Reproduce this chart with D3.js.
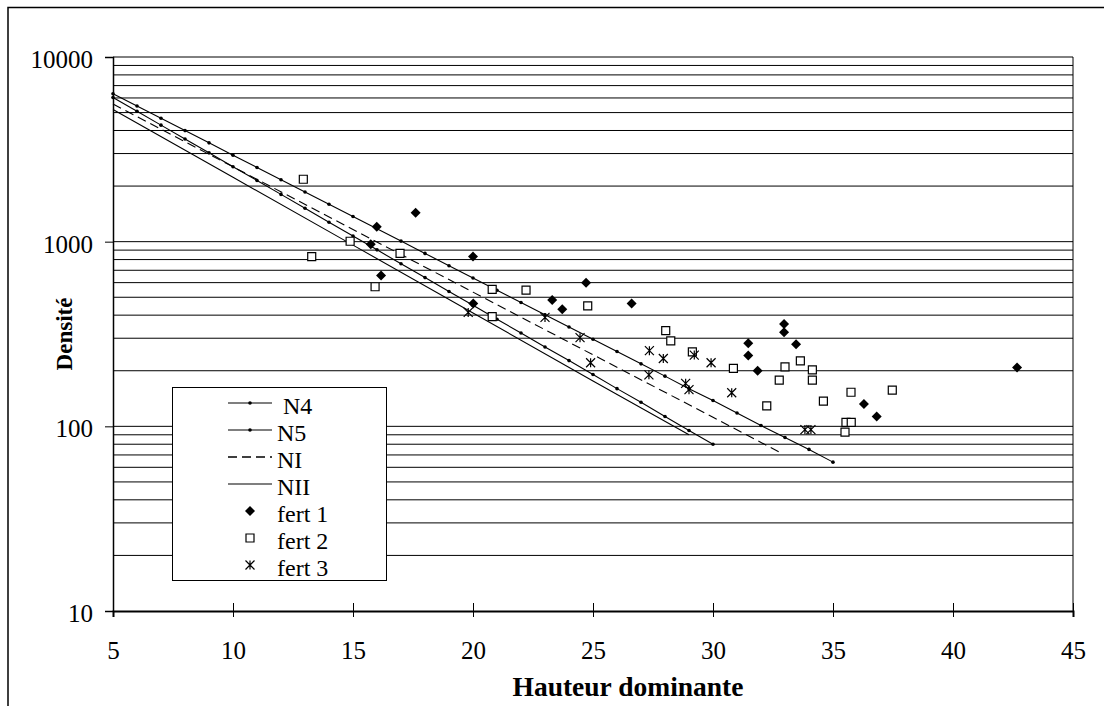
<!DOCTYPE html>
<html>
<head>
<meta charset="utf-8">
<script src="https://cdn.jsdelivr.net/npm/d3@7"></script>
<style>
  body { margin: 0; background: #fff; }
  svg { display: block; }
  svg text { font-family: "Liberation Serif", "Times New Roman", serif; fill: #000; }
</style>
</head>
<body>
<svg id="chart" width="1104" height="706"></svg>
<script>
// reference curves
const n4X = [5, 6, 7, 8, 9, 10, 11, 12, 13, 14, 15, 16, 17, 18, 19, 20, 21, 22, 23, 24, 25, 26, 27, 28, 29, 30, 31, 32, 33, 34, 35];
const n4Y = [6324, 5427, 4656, 3995, 3428, 2941, 2523, 2165, 1858, 1594, 1368, 1174, 1007, 864, 741, 636, 546, 468, 402, 345, 296, 254, 218, 187, 160, 138, 118, 101, 87, 75, 64];
const n5X = [5, 6, 7, 8, 9, 10, 11, 12, 13, 14, 15, 16, 17, 18, 19, 20, 21, 22, 23, 24, 25, 26, 27, 28, 29, 30];
const n5Y = [6039, 5082, 4276, 3597, 3027, 2547, 2143, 1803, 1516, 1275, 1073, 903, 759, 639, 537, 452, 380, 320, 269, 227, 191, 160, 135, 113, 95, 80];
const niX = [5, 10, 15, 20, 25, 30, 32.9];
const niY = [5559, 2544, 1164, 533, 244, 112, 71];
const niiX = [5, 10, 15, 20, 25, 29];
const niiY = [5200, 2232, 958, 411, 176, 90];

// observations
const fert1X = [15.99, 17.61, 15.74, 16.17, 20.0, 20.01, 23.3, 23.72, 24.71, 26.61, 31.47, 31.47, 31.86, 32.96, 32.96, 33.46, 36.29, 36.82, 42.67];
const fert1Y = [1205, 1436, 968, 655, 830, 463, 483, 431, 600, 463, 282, 242, 200, 358, 323, 278, 132, 113, 208];
const fert2X = [12.93, 13.28, 14.88, 15.92, 16.96, 20.8, 20.8, 22.21, 24.78, 28.03, 28.24, 29.14, 30.85, 32.24, 32.76, 33.0, 33.64, 34.14, 34.14, 34.6, 35.5, 35.54, 35.75, 35.76, 37.47];
const fert2Y = [2178, 830, 1005, 570, 865, 552, 393, 547, 449, 330, 290, 253, 206, 129, 178, 210, 226, 202, 178, 137, 93, 105, 153, 105, 157];
const fert3X = [19.8, 23.0, 24.46, 24.9, 27.35, 27.33, 27.93, 28.86, 29.0, 29.22, 29.92, 30.78, 33.83, 34.08];
const fert3Y = [414, 389, 302, 221, 257, 190, 233, 171, 158, 243, 221, 152, 96, 96];

const xTicks = [5, 10, 15, 20, 25, 30, 35, 40, 45];
const yTicks = [10, 100, 1000, 10000];
const legendNames = ["N4", "N5", "NI", "NII", "fert 1", "fert 2", "fert 3"];

const svg = d3.select("#chart");
const mLeft = 113, mRight = 1073, mTop = 57, mBottom = 611;

const x = d3.scaleLinear().domain([5, 45]).range([mLeft, mRight]);
const y = d3.scaleLog().domain([10, 10000]).range([mBottom, mTop]);

// outer frame (right/bottom sides fall outside the picture)
svg.append("rect")
  .attr("x", 8).attr("y", 7.5)
  .attr("width", 1120).attr("height", 760)
  .attr("fill", "none").attr("stroke", "#000").attr("stroke-width", 1.5);

// horizontal grid: 1..9 x each decade
const gridVals = [];
[10, 100, 1000].forEach(d => { for (let k = 1; k < 10; k++) gridVals.push(d * k); });
gridVals.push(10000);
svg.append("g").selectAll("line")
  .data(gridVals.filter(v => v > 10))
  .join("line")
  .attr("x1", mLeft).attr("x2", mRight)
  .attr("y1", d => y(d)).attr("y2", d => y(d))
  .attr("stroke", "#000").attr("stroke-width", 1);

// right edge of plot
svg.append("line")
  .attr("x1", mRight).attr("x2", mRight).attr("y1", mTop).attr("y2", mBottom)
  .attr("stroke", "#000").attr("stroke-width", 1);

// axes
const xAxis = svg.append("g")
  .attr("transform", `translate(0,${mBottom})`)
  .call(d3.axisBottom(x).tickValues(xTicks).tickSizeOuter(0).tickSize(6))
  .attr("font-family", null);
xAxis.select(".domain").attr("stroke-width", 2);
xAxis.selectAll(".tick line").attr("y1", d => d === 5 ? 0 : -8).attr("y2", 6);
xAxis.selectAll(".tick text")
  .attr("y", 48).attr("dy", 0)
  .style("font-size", "25px");

const yAxis = svg.append("g")
  .attr("transform", `translate(${mLeft},0)`)
  .call(d3.axisLeft(y).tickValues(yTicks).tickFormat(d3.format("d")).tickSizeOuter(0).tickSize(8))
  .attr("font-family", null);
yAxis.select(".domain").attr("stroke-width", 1.5);
yAxis.selectAll(".tick text")
  .attr("x", -20).attr("dy", 10.5)
  .style("font-size", "25px");

// axis titles
svg.append("text")
  .attr("x", 628).attr("y", 696)
  .attr("text-anchor", "middle")
  .style("font-size", "27.5px").style("font-weight", "bold")
  .text("Hauteur dominante");

svg.append("text")
  .attr("transform", `translate(72,${(mTop + mBottom) / 2}) rotate(-90)`)
  .attr("text-anchor", "middle")
  .style("font-size", "23px").style("font-weight", "bold")
  .text("Densité");

// curves
const line = d3.line().x(d => x(d[0])).y(d => y(d[1]));
const curves = [
  { xs: n4X, ys: n4Y, dash: null, dots: true },
  { xs: n5X, ys: n5Y, dash: null, dots: true },
  { xs: niX, ys: niY, dash: "9,5", dots: false },
  { xs: niiX, ys: niiY, dash: null, dots: false }
];
const plot = svg.append("g");
curves.forEach(c => {
  const pts = c.xs.map((v, i) => [v, c.ys[i]]);
  plot.append("path")
    .attr("d", line(pts))
    .attr("fill", "none").attr("stroke", "#000").attr("stroke-width", 1.1)
    .attr("stroke-dasharray", c.dash);
  if (c.dots) {
    plot.append("g").selectAll("circle")
      .data(pts).join("circle")
      .attr("cx", d => x(d[0])).attr("cy", d => y(d[1]))
      .attr("r", 1.8).attr("fill", "#000");
  }
});

// markers: Excel-style asterisk = vertical bar + X
const asterisk = {
  draw(context, size) {
    const r = Math.sqrt(size) / 2;
    context.moveTo(0, -r); context.lineTo(0, r);
    context.moveTo(-r, -r); context.lineTo(r, r);
    context.moveTo(-r, r); context.lineTo(r, -r);
  }
};
const diamond = d3.symbol(d3.symbolSquare, 50);
const square = d3.symbol(d3.symbolSquare, 64);
const star = d3.symbol(asterisk, 81);

function drawDiamond(g, cx, cy) {
  g.append("path").attr("d", diamond())
    .attr("transform", `translate(${cx},${cy}) rotate(45)`)
    .attr("fill", "#000");
}
function drawSquare(g, cx, cy) {
  g.append("path").attr("d", square())
    .attr("transform", `translate(${cx},${cy})`)
    .attr("fill", "#fff").attr("stroke", "#000").attr("stroke-width", 1.2);
}
function drawStar(g, cx, cy) {
  g.append("path").attr("d", star())
    .attr("transform", `translate(${cx},${cy})`)
    .attr("fill", "none").attr("stroke", "#000").attr("stroke-width", 1.2);
}

fert2X.forEach((v, i) => drawSquare(plot, x(v), y(fert2Y[i])));
fert1X.forEach((v, i) => drawDiamond(plot, x(v), y(fert1Y[i])));
fert3X.forEach((v, i) => drawStar(plot, x(v), y(fert3Y[i])));

// legend
const lg = svg.append("g");
lg.append("rect")
  .attr("x", 172.5).attr("y", 387.5).attr("width", 214).attr("height", 193)
  .attr("fill", "#fff").attr("stroke", "#000").attr("stroke-width", 1);
legendNames.forEach((name, i) => {
  const cy = 403 + i * 27;
  const row = lg.append("g");
  if (i < 4) {
    row.append("line")
      .attr("x1", 228).attr("x2", 272).attr("y1", cy).attr("y2", cy)
      .attr("stroke", "#000").attr("stroke-width", i === 2 ? 1.6 : 1.1)
      .attr("stroke-dasharray", i === 2 ? "9,5" : null);
    if (i < 2) row.append("circle").attr("cx", 250).attr("cy", cy).attr("r", 1.8).attr("fill", "#000");
  } else if (i === 4) drawDiamond(row, 250, cy);
  else if (i === 5) drawSquare(row, 250, cy);
  else drawStar(row, 250, cy);
  row.append("text")
    .attr("x", i === 0 ? 283 : 277).attr("y", cy + 11)
    .style("font-size", "24px")
    .text(name);
});
</script>
</body>
</html>
